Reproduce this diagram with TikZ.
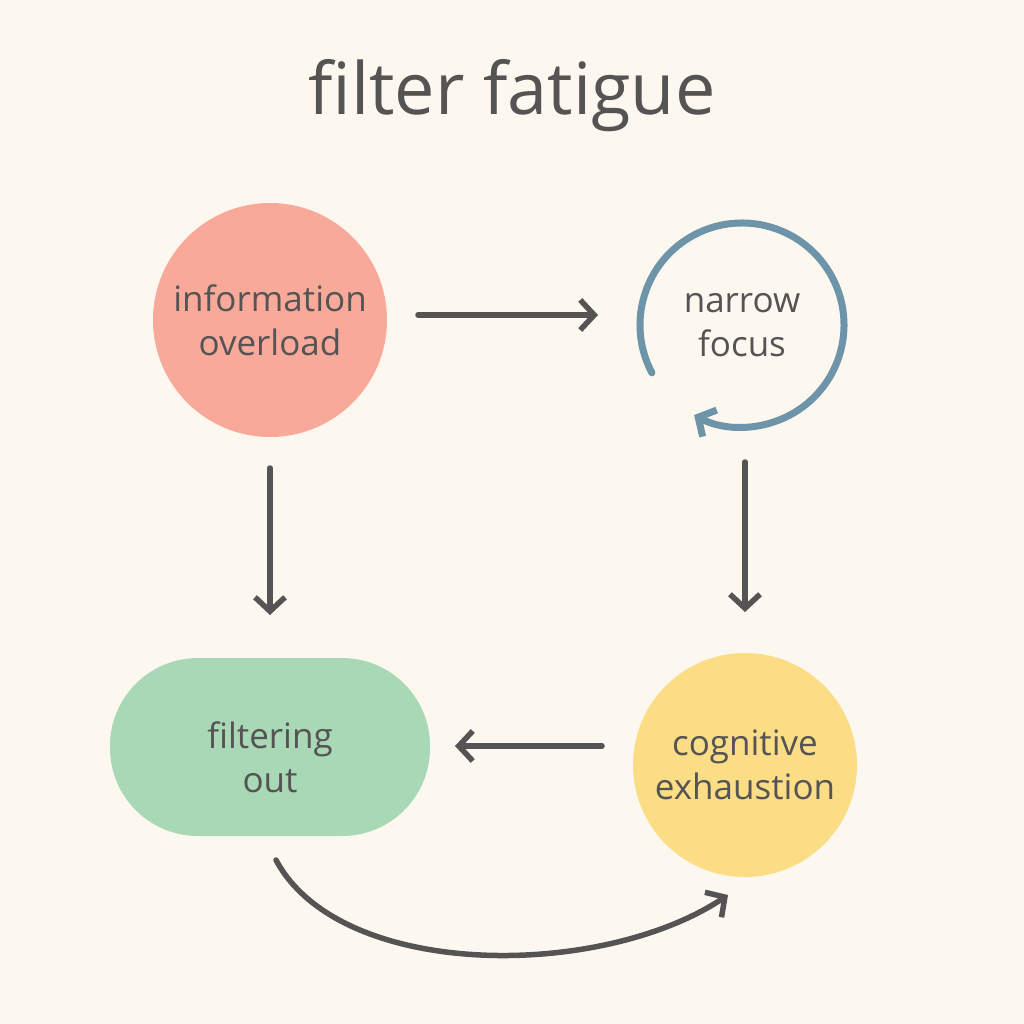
\documentclass[tikz,border=0pt]{standalone}
\usepackage{fontspec}
\setmainfont{Open Sans}
\usetikzlibrary{arrows.meta}
\definecolor{bg}{HTML}{FDF8EF}
\definecolor{ink}{HTML}{555353}
\definecolor{red}{HTML}{F9A99A}
\definecolor{blu}{HTML}{6E94AA}
\definecolor{grn}{HTML}{A8D8B5}
\definecolor{yel}{HTML}{FBDD85}
\tikzset{
 arr/.style={draw=ink,line width=5.5pt,line cap=round,-{Straight Barb[length=14pt,width=30pt,line width=5.5pt]}},
 lbl/.style={text=ink,font=\fontsize{35}{44}\selectfont,align=center}
}
\begin{document}
\begin{tikzpicture}[x=1pt,y=-1pt]
\fill[bg] (0,0) rectangle (1024,1024);
\useasboundingbox (0,0) rectangle (1024,1024);
\node[text=ink,font=\fontsize{72}{80}\selectfont] (title) at (512,96) {filter fatigue};
\node[circle,fill=red,minimum size=234pt,inner sep=0] (info) at (270,320) {};
\node[lbl] at (info) {information\\overload};
\node[circle,minimum size=210pt,inner sep=0] (focus) at (742,325) {};
\node[lbl] at (focus) {narrow\\focus};
\draw[draw=blu,line width=7pt,line cap=round,-{Straight Barb[length=13pt,width=30pt,line width=7pt]}]
  (742,325) ++(152:102) arc[start angle=152,end angle=478,radius=102];
\node[rounded corners=88pt,fill=grn,minimum width=320pt,minimum height=178pt] (filt) at (270,747) {};
\node[lbl] at (270,757) {filtering\\out};
\node[circle,fill=yel,minimum size=224pt,inner sep=0] (cog) at (745,765) {};
\node[lbl] at (cog) {cognitive\\exhaustion};
\coordinate (a1) at (418,315); \coordinate (a2) at (598,315);
\draw[arr] (a1) -- (a2);
\coordinate (b1) at (270,468); \coordinate (b2) at (270,615);
\draw[arr] (b1) -- (b2);
\coordinate (c1) at (745,462); \coordinate (c2) at (745,612);
\draw[arr] (c1) -- (c2);
\coordinate (d1) at (602,746); \coordinate (d2) at (455,746);
\draw[arr] (d1) -- (d2);
\coordinate (e1) at (276,860); \coordinate (e2) at (728,895);
\draw[arr] (e1) .. controls (340,980) and (600,980) .. (e2);
\end{tikzpicture}
\end{document}
